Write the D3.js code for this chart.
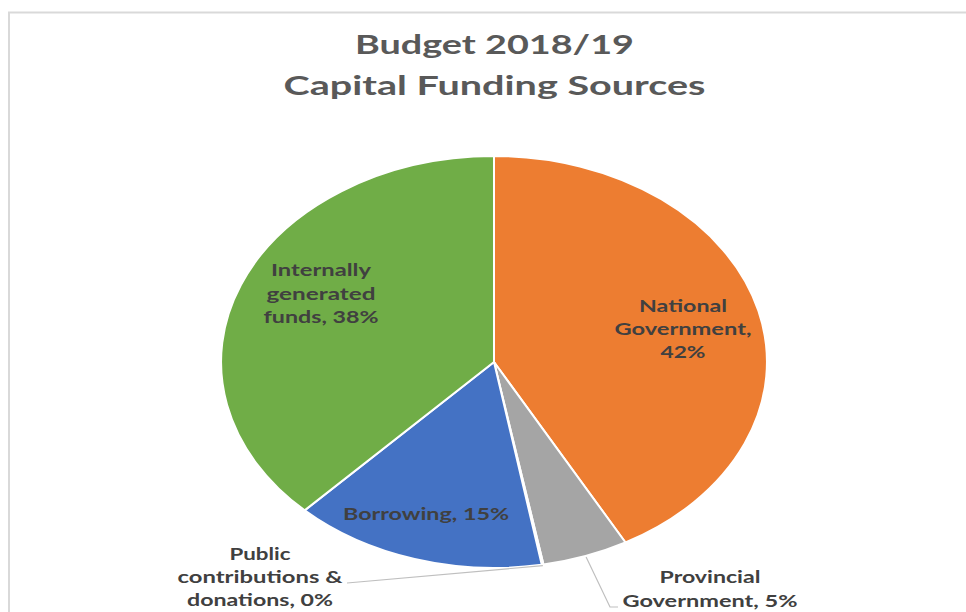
<!DOCTYPE html>
<html><head><meta charset="utf-8">
<script src="https://cdn.jsdelivr.net/npm/d3@7"></script>
<style>html,body{margin:0;padding:0;background:#fff;}</style>
</head><body>
<svg id="c" width="966" height="612"></svg>
<script>
const titleLines = ["Budget 2018/19", "Capital Funding Sources"];
const categories = ["National Government", "Provincial Government", "Public contributions & donations", "Borrowing", "Internally generated funds"];
const values = [42.0, 5.1, 0.1, 15.0, 37.8];
const percentLabels = ["42%", "5%", "0%", "15%", "38%"];
const colors = ["#ED7D31", "#A5A5A5", "#FFC000", "#4472C4", "#70AD47"];

// label layout (line texts, anchor x, first baseline, line gap, target widths)
const labelLayout = [
  {lines:["National","Government,","42%"], x:683, y:312, gap:23, w:[88,137,45]},
  {lines:["Provincial","Government, 5%"], x:710, y:583, gap:24, w:[101,175]},
  {lines:["Public","contributions &","donations, 0%"], x:260, y:560, gap:23, w:[61,165,146]},
  {lines:["Borrowing, 15%"], x:426, y:520, gap:23, w:[166]},
  {lines:["Internally","generated","funds, 38%"], x:321, y:276, gap:23.5, w:[100,109,115]}
];

const svg = d3.select("#c");
const W = 966, H = 612;
const cx = 494, cy = 362, ry = 206, sx = 1.325;

// border
svg.append("path").attr("d", `M9,${H+2} L9,12.5 L${W+2},12.5`)
  .attr("fill","none").attr("stroke","#d9d9d9").attr("stroke-width",2);

// title
const titleW = [279, 422];
const titleY = [54, 95];
titleLines.forEach((t,i)=>{
  svg.append("text").attr("x", 494.5).attr("y", titleY[i])
    .attr("text-anchor","middle")
    .attr("font-family","Lato, 'Open Sans', sans-serif")
    .attr("font-weight","bold").attr("font-size", 26)
    .attr("fill","#595959")
    .attr("textLength", titleW[i]).attr("lengthAdjust","spacingAndGlyphs")
    .text(t);
});

const data = categories.map((c,i)=>({cat:c, value:values[i], color:colors[i], pct:percentLabels[i], layout:labelLayout[i]}));
const pie = d3.pie().sort(null).value(d=>d.value);
const arcs = pie(data);
const arc = d3.arc().innerRadius(0).outerRadius(ry);

const g = svg.append("g").attr("transform", `translate(${cx},${cy}) scale(${sx},1)`);
g.selectAll("path.slice").data(arcs).enter().append("path")
  .attr("class","slice")
  .attr("d", arc)
  .attr("fill", d=>d.data.color)
  .attr("stroke","#fff").attr("stroke-width",2)
  .attr("vector-effect","non-scaling-stroke");

// point on ellipse edge for an angle
function edge(a, r){ r = r||ry; return [cx + sx*r*Math.sin(a), cy - r*Math.cos(a)]; }

// leader lines
const prov = arcs[1], pub = arcs[2];
const pA = edge((prov.startAngle+prov.endAngle)/2, ry+1);
svg.append("polyline")
  .attr("points", [pA, [610, 607], [618, 607]].map(p=>p.join(",")).join(" "))
  .attr("fill","none").attr("stroke","#bfbfbf").attr("stroke-width",1.2);
const uA = edge((pub.startAngle+pub.endAngle)/2, ry+1);
svg.append("polyline")
  .attr("points", [uA, [347, 583]].map(p=>p.join(",")).join(" "))
  .attr("fill","none").attr("stroke","#bfbfbf").attr("stroke-width",1.2);

// labels
data.forEach(d=>{
  const L = d.layout;
  L.lines.forEach((t,i)=>{
    svg.append("text").attr("x", L.x).attr("y", L.y + i*L.gap)
      .attr("text-anchor","middle")
      .attr("font-family","Lato, 'Open Sans', sans-serif")
      .attr("font-weight","bold").attr("font-size", 17)
      .attr("fill","#404040")
      .attr("textLength", L.w[i]).attr("lengthAdjust","spacingAndGlyphs")
      .text(t);
  });
});
</script>
</body></html>
